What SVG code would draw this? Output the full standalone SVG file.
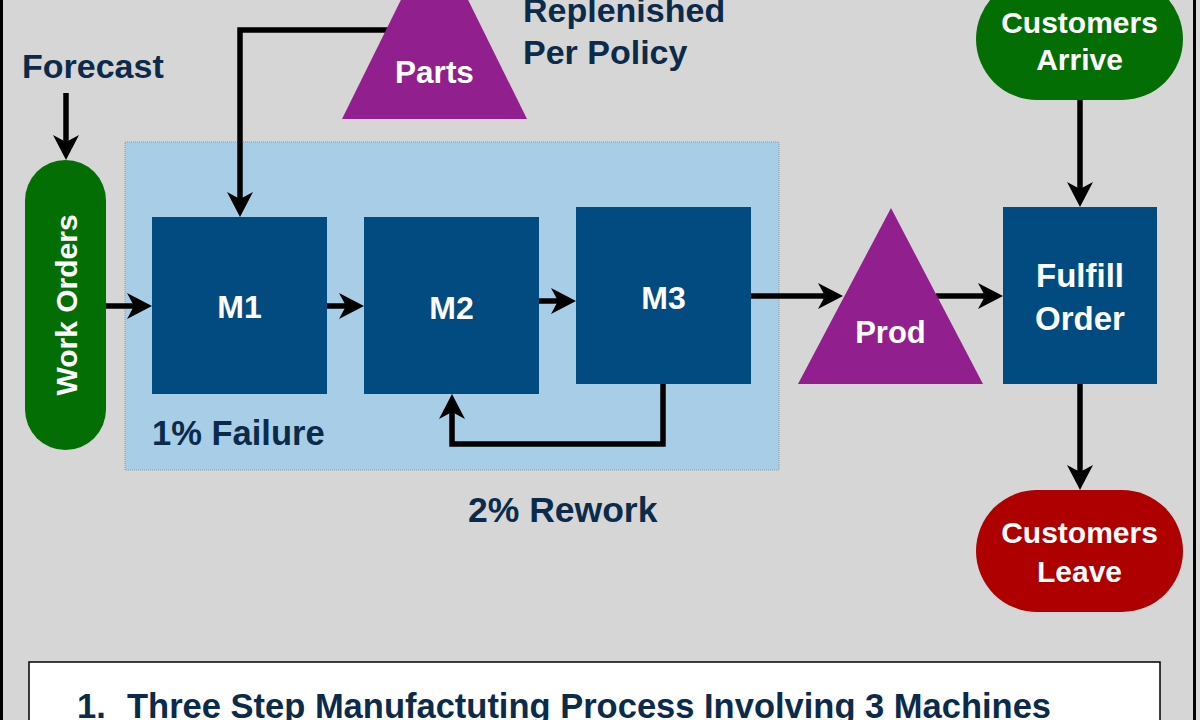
<svg xmlns="http://www.w3.org/2000/svg" width="1200" height="720" viewBox="0 0 1200 720">
<defs>
<style>
.lbl{font-family:"Liberation Sans",Arial,sans-serif;font-weight:bold;fill:#0c2b4b;font-size:34px}
.wt{font-family:"Liberation Sans",Arial,sans-serif;font-weight:bold;fill:#ffffff;text-anchor:middle}
.box{fill:#024b80}
.tri{fill:#921f8e}
.con{fill:none;stroke:#000;stroke-width:5.5;stroke-linejoin:miter}
</style>
<marker id="ah" markerUnits="userSpaceOnUse" markerWidth="26" markerHeight="26" refX="7" refY="13" orient="auto" viewBox="0 0 26 26" overflow="visible">
<path d="M0,0 L25,13 L0,26 L7,13 Z" fill="#000"/>
</marker>
</defs>
<rect x="0" y="0" width="1200" height="720" fill="#d6d6d6"/>
<line x1="1.5" y1="0" x2="1.5" y2="720" stroke="#000" stroke-width="3"/>
<line x1="1194.5" y1="0" x2="1194.5" y2="720" stroke="#000" stroke-width="3"/>

<g id="container">
<rect x="125" y="142" width="654" height="328" fill="#a7cde7" stroke="#8a9aa6" stroke-width="1" stroke-dasharray="1,1"/>
</g>

<g id="forecast"><text class="lbl" x="22" y="78">Forecast</text></g>
<g id="replenished"><text class="lbl" x="523" y="22">Replenished</text><text class="lbl" x="523" y="64">Per Policy</text></g>
<g id="failure"><text class="lbl" x="152" y="445" style="font-size:34.5px">1% Failure</text></g>
<g id="rework"><text class="lbl" x="468" y="522" style="font-size:35.5px">2% Rework</text></g>

<g id="connectors">
<line class="con" x1="66" y1="93" x2="66" y2="142" marker-end="url(#ah)"/>
<polyline class="con" points="389,30 240,30 240,199" marker-end="url(#ah)"/>
<line class="con" x1="106" y1="306" x2="134" y2="306" marker-end="url(#ah)"/>
<line class="con" x1="327" y1="306" x2="346" y2="306" marker-end="url(#ah)"/>
<line class="con" x1="539" y1="301" x2="558" y2="301" marker-end="url(#ah)"/>
<polyline class="con" points="663,384 663,444 452,444 452,412" marker-end="url(#ah)"/>
<line class="con" x1="751" y1="296" x2="825" y2="296" marker-end="url(#ah)"/>
<line class="con" x1="936" y1="296" x2="985" y2="296" marker-end="url(#ah)"/>
<line class="con" x1="1080" y1="100" x2="1080" y2="189" marker-end="url(#ah)"/>
<line class="con" x1="1080" y1="384" x2="1080" y2="472" marker-end="url(#ah)"/>
</g>

<g id="work-orders">
<rect x="25" y="160" width="81" height="290" rx="40.5" ry="40.5" fill="#036e04"/>
<text class="wt" transform="translate(77,305) rotate(-90)" style="font-size:30px">Work Orders</text>
</g>
<g id="parts">
<polygon class="tri" points="434.5,-68 527,119 342,119"/>
<text class="wt" x="434.5" y="83" style="font-size:31.5px">Parts</text>
</g>
<g id="m1">
<rect class="box" x="152" y="217" width="175" height="177"/>
<text class="wt" x="239.5" y="318" style="font-size:32px">M1</text>
</g>
<g id="m2">
<rect class="box" x="364" y="217" width="175" height="177"/>
<text class="wt" x="451.5" y="319" style="font-size:32px">M2</text>
</g>
<g id="m3">
<rect class="box" x="576" y="207" width="175" height="177"/>
<text class="wt" x="663.5" y="309" style="font-size:32px">M3</text>
</g>
<g id="prod">
<polygon class="tri" points="891,208 983,384 798,384"/>
<text class="wt" x="890.5" y="343" style="font-size:31px">Prod</text>
</g>
<g id="fulfill-order">
<rect class="box" x="1003" y="207" width="154" height="177"/>
<text class="wt" x="1080" y="287" style="font-size:33px">Fulfill</text>
<text class="wt" x="1080" y="330" style="font-size:33px">Order</text>
</g>
<g id="customers-arrive">
<rect x="976" y="-22" width="207" height="122" rx="61" ry="61" fill="#036e04"/>
<text class="wt" x="1079.5" y="33" style="font-size:30px">Customers</text>
<text class="wt" x="1079.5" y="70" style="font-size:30px">Arrive</text>
</g>
<g id="customers-leave">
<rect x="976" y="490" width="207" height="122" rx="61" ry="61" fill="#ae0000"/>
<text class="wt" x="1079.5" y="543" style="font-size:30px">Customers</text>
<text class="wt" x="1079.5" y="582" style="font-size:30px">Leave</text>
</g>
<g id="caption">
<rect x="29" y="662" width="1131" height="70" fill="#ffffff" stroke="#000" stroke-width="1.5"/>
<text class="lbl" x="77" y="718" style="font-size:34.5px">1.</text>
<text class="lbl" x="127" y="718" style="font-size:34.5px">Three Step Manufactuting Process Involving 3 Machines</text>
</g>
</svg>
